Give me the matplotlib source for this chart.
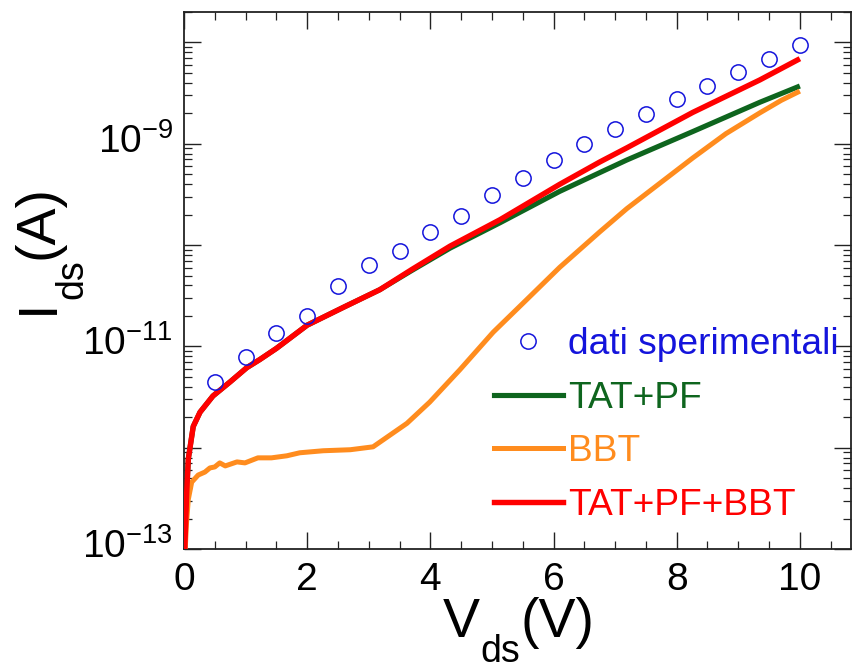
import matplotlib
matplotlib.use("Agg")
import matplotlib.pyplot as plt
from matplotlib.ticker import MultipleLocator, LogLocator, FuncFormatter, NullFormatter
from matplotlib.lines import Line2D
from matplotlib.transforms import ScaledTranslation
import numpy as np

plt.rcParams['font.family'] = ['Liberation Sans', 'DejaVu Sans']
plt.rcParams['mathtext.fontset'] = 'custom'
plt.rcParams['mathtext.rm'] = 'Liberation Sans'
plt.rcParams['mathtext.it'] = 'Liberation Sans'
plt.rcParams['mathtext.bf'] = 'Liberation Sans:bold'
plt.rcParams['mathtext.default'] = 'rm'

# ---------------- data ----------------
V_exp = [0.5, 1.0, 1.5, 2.0, 2.5, 3.0, 3.5, 4.0, 4.5, 5.0,
         5.5, 6.0, 6.5, 7.0, 7.5, 8.0, 8.5, 9.0, 9.5, 10.0]
I_exp = [4.5e-12, 7.8e-12, 1.37e-11, 1.98e-11, 3.99e-11, 6.4e-11, 8.8e-11, 1.36e-10, 1.95e-10, 3.15e-10,
         4.6e-10, 6.95e-10, 1.0e-9, 1.41e-9, 1.98e-9, 2.77e-9, 3.7e-9, 5.1e-9, 6.9e-9, 9.4e-9]

V_tat = [0.012, 0.044, 0.07, 0.15, 0.26, 0.47, 0.75, 1.02, 1.23, 1.5, 2.0, 2.6, 3.18,
         3.7, 4.32, 5.13, 6.1, 6.75, 7.19, 8.26, 9.35, 10.0]
I_tat = [1.0e-13, 3.63e-13, 7.76e-13, 1.62e-12, 2.24e-12, 3.24e-12, 4.47e-12, 6.17e-12, 7.41e-12,
         9.55e-12, 1.62e-11, 2.45e-11, 3.63e-11,
         5.62e-11, 9.33e-11, 1.66e-10, 3.39e-10, 5.19e-10, 6.92e-10, 1.32e-9, 2.57e-9, 3.72e-9]

V_bbt = [0.02, 0.04, 0.07, 0.125, 0.23, 0.34, 0.42, 0.5, 0.58, 0.67, 0.86, 0.99, 1.2, 1.42, 1.67,
         1.88, 2.26, 2.7, 3.07, 3.62, 3.99, 4.48, 5.02, 5.56, 6.1, 6.75, 7.19, 8.26, 8.8, 9.35,
         9.7, 10.0]
I_bbt = [1.0e-13, 1.78e-13, 3.09e-13, 4.57e-13, 5.37e-13, 5.75e-13, 6.31e-13, 6.46e-13, 7.08e-13,
         6.61e-13, 7.24e-13, 7.08e-13, 7.94e-13, 7.94e-13, 8.32e-13, 8.91e-13, 9.33e-13, 9.55e-13,
         1.02e-12, 1.74e-12, 2.82e-12, 5.89e-12, 1.38e-11, 2.88e-11, 6.03e-11, 1.35e-10, 2.29e-10,
         7.24e-10, 1.26e-9, 2.02e-9, 2.69e-9, 3.31e-9]

V_tot = [0.012, 0.044, 0.07, 0.15, 0.26, 0.47, 0.75, 1.02, 1.23, 1.5, 2.0, 2.6, 3.18,
         3.7, 4.32, 5.13, 6.1, 6.75, 7.19, 8.26, 9.35, 10.0]
I_tot = [1.0e-13, 3.63e-13, 7.76e-13, 1.62e-12, 2.24e-12, 3.24e-12, 4.47e-12, 6.17e-12, 7.41e-12,
         9.55e-12, 1.62e-11, 2.45e-11, 3.63e-11,
         5.75e-11, 9.77e-11, 1.78e-10, 3.98e-10, 6.61e-10, 9.12e-10, 2.04e-9, 4.27e-9, 6.92e-9]

labels = ['dati sperimentali', 'TAT+PF', 'BBT', 'TAT+PF+BBT']
colors = ['#1414DC', '#0E651E', '#FF8C1E', '#FF0000']

x_ticks = [0, 2, 4, 6, 8, 10]
y_label_exps = [-13, -11, -9]

# ---------------- figure ----------------
W, H = 856, 670
fig = plt.figure(figsize=(W / 100, H / 100), dpi=100)
L, R, T, B = 184, 851, 12, 549
ax = fig.add_axes([L / W, 1 - B / H, (R - L) / W, (B - T) / H])

ax.set_yscale('log')
ax.set_xlim(0, 10.83)
ax.set_ylim(1e-13, 2e-8)

ax.plot(V_tat, I_tat, color=colors[1], lw=3.7, zorder=2, solid_capstyle='butt')
ax.plot(V_bbt, I_bbt, color=colors[2], lw=3.6, zorder=3, solid_capstyle='butt')
ax.plot(V_tot, I_tot, color=colors[3], lw=3.9, zorder=4, solid_capstyle='butt')
ax.plot(V_exp, I_exp, linestyle='none', marker='o', ms=11, mfc='none',
        mec=colors[0], mew=1.1, zorder=5)

# ticks
ax.xaxis.set_major_locator(MultipleLocator(2))
ax.xaxis.set_minor_locator(MultipleLocator(0.5))
ax.set_xticks(x_ticks)
ax.yaxis.set_major_locator(LogLocator(base=10, numticks=30))
ax.yaxis.set_minor_locator(LogLocator(base=10, subs=np.arange(2, 10), numticks=30))
ax.yaxis.set_minor_formatter(NullFormatter())


def yfmt(v, pos):
    e = int(round(np.log10(v)))
    if e in y_label_exps:
        return '10$^{%d}$' % e
    return ''


ax.yaxis.set_major_formatter(FuncFormatter(yfmt))
ax.tick_params(which='both', direction='in', top=True, right=True, color='#222222')
ax.tick_params(which='major', length=12, width=1.0, labelsize=28, pad=9)
ax.tick_params(which='minor', length=6, width=0.9)
ax.tick_params(axis='y', which='major', pad=8)
for s in ax.spines.values():
    s.set_linewidth(1.3)
    s.set_color('#222222')

# raise the y tick labels a little, as in the reference
lift = ScaledTranslation(0, 6 / 100, fig.dpi_scale_trans)
for tk in ax.yaxis.get_major_ticks():
    tk.label1.set_transform(tk.label1.get_transform() + lift)

# axis titles built from pieces (deep subscript as in the reference)
def fx(px):
    return px / W


def fy(py):
    return 1 - py / H


big, small = 40, 27
kw = dict(ha='left', va='baseline', color='black')
fig.text(fx(443), fy(637), 'V', fontsize=big, **kw)
fig.text(fx(480), fy(662), 'ds', fontsize=small, **kw)
fig.text(fx(520), fy(637), '(V)', fontsize=big, **kw)

rkw = dict(ha='left', va='baseline', color='black', rotation=90, rotation_mode='anchor')
fig.text(fx(53), fy(314), 'I', fontsize=big, **rkw)
fig.text(fx(82), fy(299), 'ds', fontsize=small, **rkw)
fig.text(fx(53), fy(259), '(A)', fontsize=big, **rkw)

handles = [
    Line2D([], [], linestyle='none', marker='o', ms=11, mfc='none', mec=colors[0], mew=1.1),
    Line2D([], [], color=colors[1], lw=3.7),
    Line2D([], [], color=colors[2], lw=3.6),
    Line2D([], [], color=colors[3], lw=3.9),
]
leg = ax.legend(handles, labels, loc='upper left', bbox_to_anchor=(494 / W, 1 - 327 / H),
                bbox_transform=fig.transFigure, frameon=False, fontsize=26.7,
                handlelength=1.86, handletextpad=0.14, labelspacing=0.5,
                borderpad=0, borderaxespad=0, numpoints=1)
for txt, c in zip(leg.get_texts(), colors):
    txt.set_color(c)

fig.savefig('out.png', dpi=100)
